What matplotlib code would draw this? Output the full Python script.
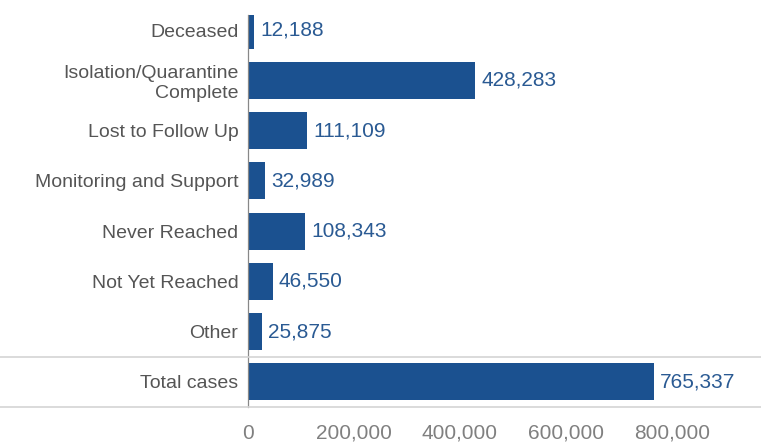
import matplotlib
matplotlib.use("Agg")
import matplotlib.pyplot as plt
from matplotlib.lines import Line2D

categories = ["Deceased", "Isolation/Quarantine\nComplete", "Lost to Follow Up",
              "Monitoring and Support", "Never Reached", "Not Yet Reached",
              "Other", "Total cases"]
values = [12188, 428283, 111109, 32989, 108343, 46550, 25875, 765337]
xticks = [0, 200000, 400000, 600000, 800000]

BAR = "#1b5190"
LABEL = "#555555"
VALUE = "#2a5a93"

plt.rcParams['font.family'] = ['Liberation Sans', 'DejaVu Sans']

fig = plt.figure(figsize=(7.61, 4.44), dpi=100)
W, H = 761, 444
ax = fig.add_axes([248 / W, (H - 407) / H, (761 - 248) / W, (407 - 15) / H])

ypos = list(range(len(categories)))
ax.barh(ypos, values, height=0.74, color=BAR)
for y, v in zip(ypos, values):
    ax.annotate(f"{v:,}", (v, y), xytext=(4.5, 0), textcoords="offset points",
                va="center", ha="left", fontsize=15, color=VALUE)

ax.set_xlim(0, 968000)
ax.set_ylim(7.5, -0.3)
ax.set_yticks(ypos)
ax.set_yticklabels(categories, fontsize=14, color=LABEL, linespacing=1.2)
ax.set_xticks(xticks)
ax.set_xticklabels([f"{t:,}" for t in xticks], fontsize=15, color="#808080")
ax.tick_params(axis="both", length=0)
ax.tick_params(axis="y", pad=7)
ax.tick_params(axis="x", pad=12)

for s in ["top", "right", "bottom"]:
    ax.spines[s].set_visible(False)
ax.spines["left"].set_color("#888888")
ax.spines["left"].set_linewidth(0.9)

# separator lines across the full width
for yp in [357, 407]:
    fig.add_artist(Line2D([0, 1], [(H - yp) / H] * 2, color="#d4d4d4", lw=1.2,
                          transform=fig.transFigure))

fig.savefig("out.png", dpi=100)
